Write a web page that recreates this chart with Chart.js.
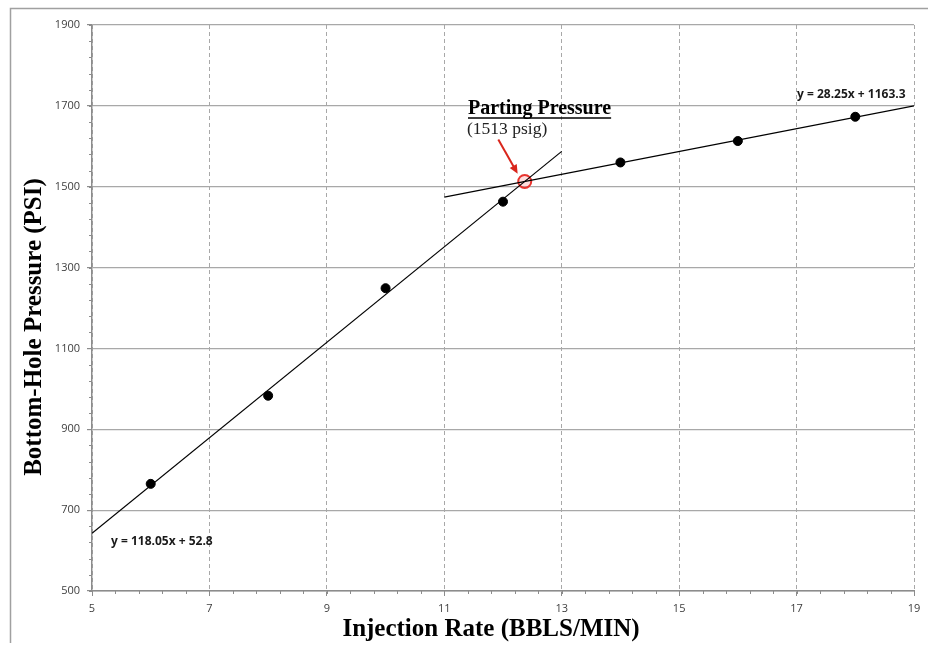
<!DOCTYPE html>
<html lang="en">

<head>
    <meta charset="UTF-8">
    <title>Parting Pressure</title>
    <script src="https://cdn.jsdelivr.net/npm/chart.js"></script>
    <style>
        body { margin: 0; background: #fff; }
        #box { width: 928px; height: 645px; }
    </style>
</head>

<body>
    <div id="box">
        <canvas id="myChartCanvas" width="928" height="645"></canvas>
    </div>

<script>
    // step-rate test points
    const rates = [6, 8, 10, 12, 14, 16, 18];
    const pressures = [765, 983, 1249, 1463, 1560, 1613, 1673];

    // trendline ends (matrix / fracture regimes)
    const lowFitX = [5, 13];
    const lowFitY = [643.05, 1587.45];
    const highFitX = [11, 19];
    const highFitY = [1474.05, 1700.05];

    // parting point and arrow pointing to it
    const partingX = [12.37];
    const partingY = [1513];
    const arrowX = [11.92, 12.25];
    const arrowY = [1617, 1532];

    const xTicks = [5, 7, 9, 11, 13, 15, 17, 19];
    const yTicks = [500, 700, 900, 1100, 1300, 1500, 1700, 1900];

    function pares(xs, ys) {
        return xs.map((x, i) => ({ x: x, y: ys[i] }));
    }

    const gridCinza = '#a8a8a8';
    const eixoCinza = '#8c8c8c';

    // minor ticks, frame, texts and arrow
    const extras = {
        id: 'extras',
        beforeDraw(chart) {
            const ctx = chart.ctx;
            ctx.save();
            ctx.fillStyle = '#fff';
            ctx.fillRect(0, 0, chart.width, chart.height);
            ctx.strokeStyle = '#a0a0a0';
            ctx.lineWidth = 1.5;
            ctx.beginPath();
            ctx.moveTo(928, 8.5);
            ctx.lineTo(10.5, 8.5);
            ctx.lineTo(10.5, 643);
            ctx.stroke();
            ctx.restore();
        },
        afterDraw(chart) {
            const ctx = chart.ctx;
            const xs = chart.scales.x;
            const ys = chart.scales.y;
            const area = chart.chartArea;

            ctx.save();
            ctx.strokeStyle = eixoCinza;
            ctx.lineWidth = 1;
            ctx.beginPath();
            for (let v = 500; v <= 1900; v += 40) {
                const py = Math.round(ys.getPixelForValue(v)) + 0.5;
                ctx.moveTo(area.left - 3, py);
                ctx.lineTo(area.left, py);
            }
            for (let v = 5; v <= 19.001; v += 0.4) {
                const px = Math.round(xs.getPixelForValue(v)) + 0.5;
                ctx.moveTo(px, area.bottom);
                ctx.lineTo(px, area.bottom + 3);
            }
            ctx.stroke();

            // arrow
            const x1 = xs.getPixelForValue(arrowX[0]), y1 = ys.getPixelForValue(arrowY[0]);
            const x2 = xs.getPixelForValue(arrowX[1]), y2 = ys.getPixelForValue(arrowY[1]);
            const ang = Math.atan2(y2 - y1, x2 - x1);
            ctx.strokeStyle = '#d9261c';
            ctx.fillStyle = '#d9261c';
            ctx.lineWidth = 2;
            ctx.beginPath();
            ctx.moveTo(x1, y1);
            ctx.lineTo(x2 - 6 * Math.cos(ang), y2 - 6 * Math.sin(ang));
            ctx.stroke();
            ctx.beginPath();
            ctx.moveTo(x2, y2);
            ctx.lineTo(x2 - 9 * Math.cos(ang) + 4 * Math.sin(ang), y2 - 9 * Math.sin(ang) - 4 * Math.cos(ang));
            ctx.lineTo(x2 - 9 * Math.cos(ang) - 4 * Math.sin(ang), y2 - 9 * Math.sin(ang) + 4 * Math.cos(ang));
            ctx.closePath();
            ctx.fill();

            // Parting pressure label
            ctx.fillStyle = '#000';
            ctx.font = 'bold 20px "Liberation Serif"';
            ctx.textAlign = 'left';
            ctx.textBaseline = 'alphabetic';
            const txt = 'Parting Pressure';
            ctx.fillText(txt, 468, 114);
            const w = ctx.measureText(txt).width;
            ctx.strokeStyle = '#000';
            ctx.lineWidth = 1.5;
            ctx.beginPath();
            ctx.moveTo(468, 118);
            ctx.lineTo(468 + w, 118);
            ctx.stroke();
            ctx.fillStyle = '#222';
            ctx.font = '17.5px "Liberation Serif"';
            ctx.fillText('(1513 psig)', 467, 134);

            // equations
            ctx.fillStyle = '#1a1a1a';
            ctx.font = 'bold 12px "Open Sans"';
            ctx.fillText('y = 28.25x + 1163.3', 797, 98);
            ctx.fillText('y = 118.05x + 52.8', 111, 545);

            // axis titles
            ctx.fillStyle = '#000';
            ctx.font = 'bold 25px "Liberation Serif"';
            ctx.textAlign = 'center';
            ctx.fillText('Injection Rate (BBLS/MIN)', 491, 636);
            ctx.translate(41, 327);
            ctx.rotate(-Math.PI / 2);
            ctx.fillText('Bottom-Hole Pressure (PSI)', 0, 0);
            ctx.restore();
        }
    };

    function plotarGrafico() {
        const dados = {
            datasets: [{
                label: 'Pontos',
                data: pares(rates, pressures),
                showLine: false,
                backgroundColor: '#000',
                borderColor: '#000',
                pointRadius: 4.5,
                pointHoverRadius: 4.5
            },
            {
                label: 'Tendencia baixa',
                data: pares(lowFitX, lowFitY),
                showLine: true,
                borderColor: '#000',
                borderWidth: 1.2,
                pointRadius: 0
            },
            {
                label: 'Tendencia alta',
                data: pares(highFitX, highFitY),
                showLine: true,
                borderColor: '#000',
                borderWidth: 1.2,
                pointRadius: 0
            },
            {
                label: 'Parting',
                data: pares(partingX, partingY),
                showLine: false,
                backgroundColor: 'rgba(255,120,120,0.25)',
                borderColor: '#e8332e',
                borderWidth: 2,
                pointRadius: 6.5
            }]
        };

        const config = {
            type: 'scatter',
            data: dados,
            options: {
                responsive: false,
                animation: false,
                events: [],
                layout: { padding: { top: 25, right: 14, left: 0, bottom: 0 } },
                plugins: {
                    legend: { display: false },
                    tooltip: { enabled: false }
                },
                scales: {
                    x: {
                        type: 'linear',
                        min: 5,
                        max: 19,
                        afterBuildTicks: (s) => { s.ticks = xTicks.map(v => ({ value: v })); },
                        afterFit: (s) => { s.height = 54; },
                        grid: {
                            color: gridCinza,
                            tickColor: eixoCinza,
                            tickLength: 5,
                            tickBorderDash: [],
                            lineWidth: 1
                        },
                        border: { color: eixoCinza, width: 1.5, dash: [4, 3] },
                        ticks: {
                            color: '#404040',
                            font: { family: 'Open Sans', size: 11 },
                            padding: 6,
                            maxRotation: 0,
                            callback: (v) => String(v)
                        }
                    },
                    y: {
                        type: 'linear',
                        min: 500,
                        max: 1900,
                        afterBuildTicks: (s) => { s.ticks = yTicks.map(v => ({ value: v })); },
                        afterFit: (s) => { s.width = 92; },
                        grid: {
                            color: gridCinza,
                            tickColor: eixoCinza,
                            tickLength: 5,
                            lineWidth: 1.2
                        },
                        border: { color: eixoCinza, width: 1.5 },
                        ticks: {
                            color: '#404040',
                            font: { family: 'Open Sans', size: 11 },
                            padding: 7,
                            callback: (v) => String(v)
                        }
                    }
                }
            },
            plugins: [extras]
        };

        let ctx = document.getElementById('myChartCanvas').getContext('2d');
        let myChart = new Chart(ctx, config);
    }

    plotarGrafico();
</script>
</body>
</html>
